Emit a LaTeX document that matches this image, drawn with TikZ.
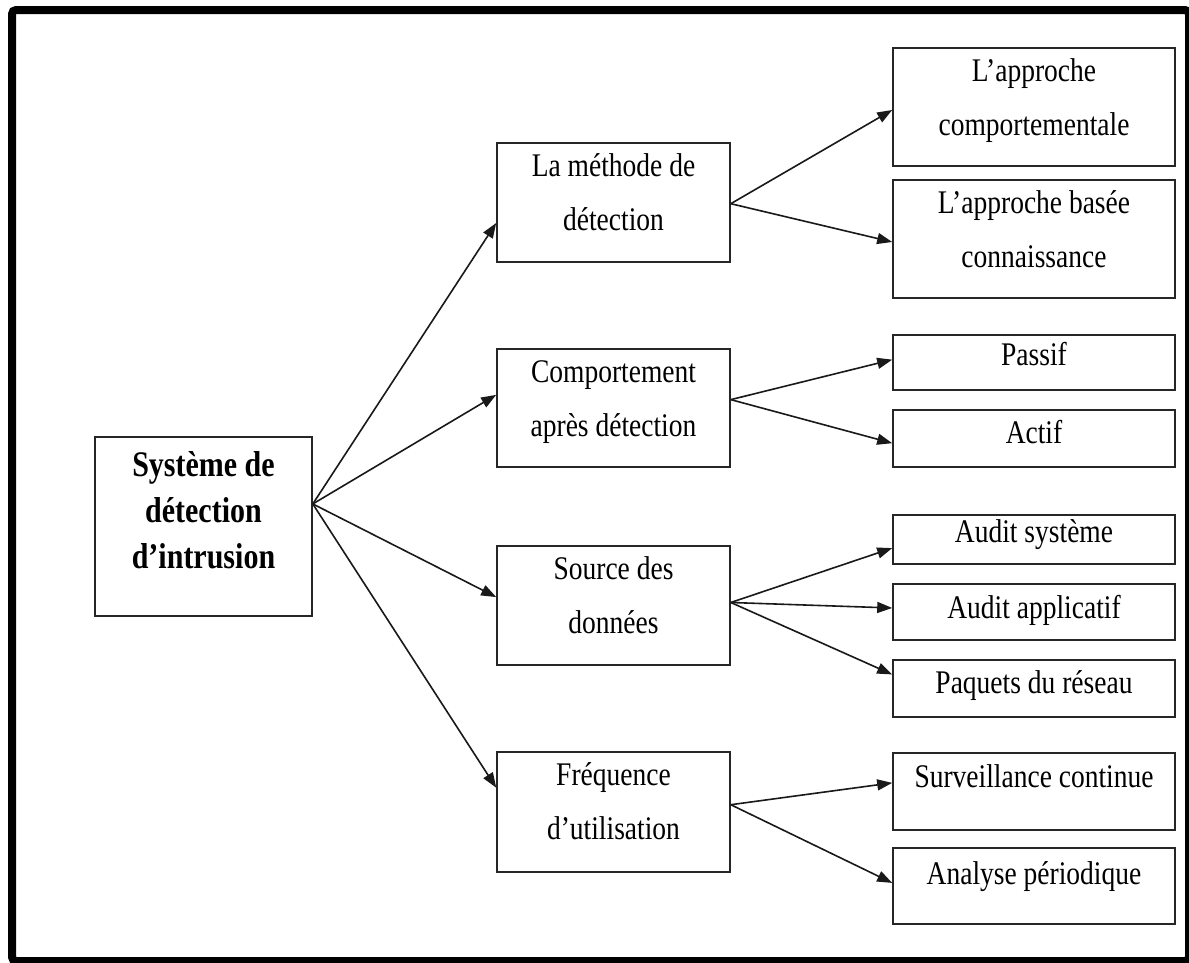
\documentclass[tikz,border=0pt]{standalone}
\usepackage{fontspec}
\setmainfont{Liberation Serif}
\usetikzlibrary{arrows.meta,calc}
% lettering is slightly condensed: stretch each line vertically
\newcommand{\tall}[1]{\scalebox{1}[1.2]{#1}}
\newcommand{\twolines}[2]{\begin{tabular}[t]{@{}c@{}}\tall{#1}\\\tall{#2}\end{tabular}}
\newcommand{\threelines}[3]{\begin{tabular}[t]{@{}c@{}}\tall{#1}\\\tall{#2}\\\tall{#3}\end{tabular}}

\begin{document}
\begin{tikzpicture}[x=1pt,y=-1pt,
  box/.style={draw=black!85, line width=1.6pt, inner sep=0pt, rectangle},
  lbl/.style={inner sep=0pt, anchor=base, font=\fontsize{27.5}{54}\selectfont},
  rootlbl/.style={inner sep=0pt, anchor=base, font=\fontsize{30}{46}\selectfont\bfseries},
  arr/.style={line width=1.6pt, draw=black!90, -{Triangle[length=15pt,width=11pt]}},
]
\useasboundingbox (0,0) rectangle (1189,962);
\fill[white] (0,0) rectangle (1189,962);

% outer frame
\draw[line width=8pt, rounded corners=4pt] (12,10) rectangle (1189,961);

% root
\node[box, minimum width=217pt, minimum height=179pt] (root) at (203.5,526.5) {};
\node[rootlbl] (root-t) at (203.5,476) {\threelines{Système de}{détection}{d’intrusion}};

% second level
\node[box, minimum width=233pt, minimum height=119pt] (meth) at (613.5,202.5) {};
\node[box, minimum width=233pt, minimum height=118pt] (comp) at (613.5,408) {};
\node[box, minimum width=233pt, minimum height=119pt] (src)  at (613.5,605.5) {};
\node[box, minimum width=233pt, minimum height=120pt] (freq) at (613.5,812) {};
\node[lbl] (meth-t) at (613.5,176) {\twolines{La méthode de}{détection}};
\node[lbl] (comp-t) at (613.5,382) {\twolines{Comportement}{après détection}};
\node[lbl] (src-t)  at (613.5,579) {\twolines{Source des}{données}};
\node[lbl] (freq-t) at (613.5,785) {\twolines{Fréquence}{d’utilisation}};

% third level
\node[box, minimum width=282pt, minimum height=118pt] (a1)     at (1034,107) {};
\node[box, minimum width=282pt, minimum height=118pt] (a2)     at (1034,239) {};
\node[box, minimum width=282pt, minimum height=55pt]  (passif) at (1034,362.5) {};
\node[box, minimum width=282pt, minimum height=57pt]  (actif)  at (1034,438.5) {};
\node[box, minimum width=282pt, minimum height=49pt]  (asys)   at (1034,539.5) {};
\node[box, minimum width=282pt, minimum height=56pt]  (aapp)   at (1034,612) {};
\node[box, minimum width=282pt, minimum height=57pt]  (paq)    at (1034,688.5) {};
\node[box, minimum width=282pt, minimum height=77pt]  (surv)   at (1034,791.5) {};
\node[box, minimum width=282pt, minimum height=76pt]  (anal)   at (1034,886) {};
\node[lbl] (a1-t)     at (1034,81)  {\twolines{L’approche}{comportementale}};
\node[lbl] (a2-t)     at (1034,213) {\twolines{L’approche basée}{connaissance}};
\node[lbl] (passif-t) at (1034,365) {\tall{Passif}};
\node[lbl] (actif-t)  at (1034,443) {\tall{Actif}};
\node[lbl] (asys-t)   at (1034,542) {\tall{Audit système}};
\node[lbl] (aapp-t)   at (1034,618) {\tall{Audit applicatif}};
\node[lbl] (paq-t)    at (1034,693) {\tall{Paquets du réseau}};
\node[lbl] (surv-t)   at (1034,787) {\tall{Surveillance continue}};
\node[lbl] (anal-t)   at (1034,884) {\tall{Analyse périodique}};

% points where the fans of arrows start
\coordinate (rootout) at ($(root.north east)!0.375!(root.south east)$);
\coordinate (methout) at ($(meth.north east)!0.51!(meth.south east)$);
\coordinate (compout) at ($(comp.north east)!0.43!(comp.south east)$);
\coordinate (srcout)  at ($(src.north east)!0.475!(src.south east)$);
\coordinate (freqout) at ($(freq.north east)!0.44!(freq.south east)$);

% root to second level
\draw[arr] (rootout) -- ($(meth.north west)!0.67!(meth.south west)$);
\draw[arr] (rootout) -- ($(comp.north west)!0.39!(comp.south west)$);
\draw[arr] (rootout) -- ($(src.north west)!0.43!(src.south west)$);
\draw[arr] (rootout) -- ($(freq.north west)!0.30!(freq.south west)$);

% second level to third level
\draw[arr] (methout) -- ($(a1.north west)!0.525!(a1.south west)$);
\draw[arr] (methout) -- ($(a2.north west)!0.525!(a2.south west)$);
\draw[arr] (compout) -- ($(passif.north west)!0.45!(passif.south west)$);
\draw[arr] (compout) -- ($(actif.north west)!0.58!(actif.south west)$);
\draw[arr] (srcout)  -- ($(asys.north west)!0.67!(asys.south west)$);
\draw[arr] (srcout)  -- ($(aapp.north west)!0.43!(aapp.south west)$);
\draw[arr] (srcout)  -- ($(paq.north west)!0.26!(paq.south west)$);
\draw[arr] (freqout) -- ($(surv.north west)!0.39!(surv.south west)$);
\draw[arr] (freqout) -- ($(anal.north west)!0.46!(anal.south west)$);
\end{tikzpicture}
\end{document}
